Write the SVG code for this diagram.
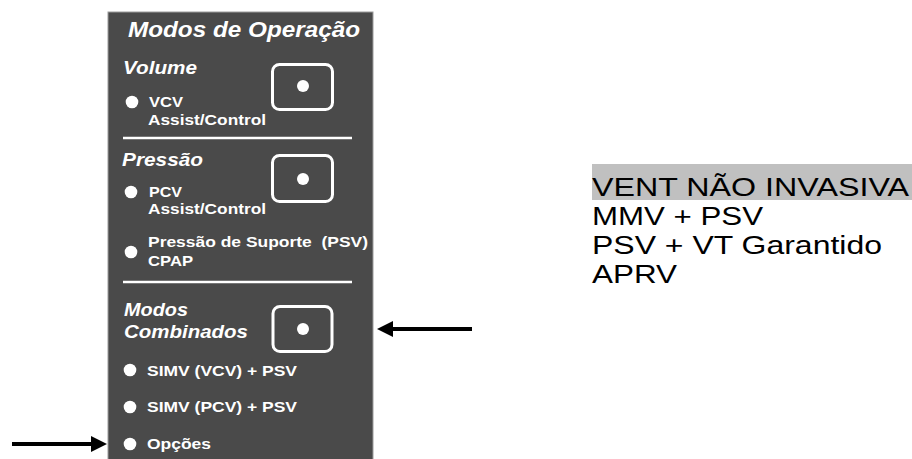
<svg xmlns="http://www.w3.org/2000/svg" width="912" height="459" viewBox="0 0 912 459">
<style>
.lbl{font-family:"Liberation Sans",Arial,sans-serif;font-weight:bold;fill:#fff;font-size:15px}
.hd{font-family:"Liberation Sans",Arial,sans-serif;font-weight:bold;font-style:italic;fill:#fff;font-size:18.5px}
.ttl{font-family:"Liberation Sans",Arial,sans-serif;font-weight:bold;font-style:italic;fill:#fff;font-size:22px}
.btn{fill:none;stroke:#fff;stroke-width:3}
.dot{fill:#fff}
.sep{stroke:#fff;stroke-width:2.5}
.rt{font-family:"Liberation Sans",Arial,sans-serif;fill:#000;font-size:26px}
.arr{stroke:#000;stroke-width:4;fill:none}
</style>
<defs>
<marker id="ah" markerUnits="userSpaceOnUse" markerWidth="17" markerHeight="16" refX="1" refY="8" orient="auto">
<path d="M0,0 L16,8 L0,16 z" fill="#000"/>
</marker>
</defs>
<rect width="912" height="459" fill="#fff"/>
<g id="panel">
<rect x="108" y="12" width="265" height="452" fill="#4a4a4a" stroke="#9c9c9c" stroke-width="1"/>
<text class="ttl" x="128" y="37" textLength="232" lengthAdjust="spacingAndGlyphs">Modos de Operação</text>
</g>
<g id="volume">
<text class="hd" x="123" y="74" textLength="74" lengthAdjust="spacingAndGlyphs">Volume</text>
<rect class="btn" x="272.5" y="64.5" width="60" height="45" rx="7"/>
<circle class="dot" cx="303" cy="86" r="6"/>
<circle class="dot" cx="132" cy="102" r="6.3"/>
<text class="lbl" x="149" y="107" textLength="34" lengthAdjust="spacingAndGlyphs">VCV</text>
<text class="lbl" x="148" y="125" textLength="118" lengthAdjust="spacingAndGlyphs">Assist/Control</text>
<line class="sep" x1="123" y1="138" x2="352" y2="138"/>
</g>
<g id="pressao">
<text class="hd" x="122" y="166" textLength="81" lengthAdjust="spacingAndGlyphs">Pressão</text>
<rect class="btn" x="272.5" y="155.5" width="60" height="46" rx="7"/>
<circle class="dot" cx="303" cy="179" r="6"/>
<circle class="dot" cx="131" cy="192" r="6.3"/>
<text class="lbl" x="149" y="197" textLength="33" lengthAdjust="spacingAndGlyphs">PCV</text>
<text class="lbl" x="148" y="214" textLength="118" lengthAdjust="spacingAndGlyphs">Assist/Control</text>
<circle class="dot" cx="131" cy="252" r="6.3"/>
<text class="lbl" x="148" y="247" textLength="220" lengthAdjust="spacingAndGlyphs">Pressão de Suporte&#160; (PSV)</text>
<text class="lbl" x="148" y="266" textLength="45" lengthAdjust="spacingAndGlyphs">CPAP</text>
<line class="sep" x1="123" y1="282" x2="352" y2="282"/>
</g>
<g id="combinados">
<text class="hd" x="124" y="316" textLength="64" lengthAdjust="spacingAndGlyphs">Modos</text>
<text class="hd" x="124" y="338" textLength="124" lengthAdjust="spacingAndGlyphs">Combinados</text>
<rect class="btn" x="273" y="306.5" width="59" height="45" rx="7"/>
<circle class="dot" cx="303" cy="329" r="6"/>
<circle class="dot" cx="130" cy="370" r="6.3"/>
<text class="lbl" x="147" y="376" textLength="150" lengthAdjust="spacingAndGlyphs">SIMV (VCV) + PSV</text>
<circle class="dot" cx="130" cy="407" r="6.3"/>
<text class="lbl" x="147" y="412" textLength="150" lengthAdjust="spacingAndGlyphs">SIMV (PCV) + PSV</text>
<circle class="dot" cx="130" cy="444" r="6.3"/>
<text class="lbl" x="147" y="449" textLength="64" lengthAdjust="spacingAndGlyphs">Opções</text>
</g>
<g id="notes">
<rect x="592" y="164" width="320" height="36" fill="#c0c0c0"/>
<text class="rt" x="592" y="196" textLength="317" lengthAdjust="spacingAndGlyphs">VENT NÃO INVASIVA</text>
<text class="rt" x="592" y="225" textLength="171" lengthAdjust="spacingAndGlyphs">MMV + PSV</text>
<text class="rt" x="592" y="254" textLength="290" lengthAdjust="spacingAndGlyphs">PSV + VT Garantido</text>
<text class="rt" x="592" y="283" textLength="85" lengthAdjust="spacingAndGlyphs">APRV</text>
</g>
<g id="connectors">
<line class="arr" x1="472" y1="329" x2="392" y2="329" marker-end="url(#ah)"/>
<line class="arr" x1="12" y1="444" x2="92" y2="444" marker-end="url(#ah)"/>
</g>
</svg>
